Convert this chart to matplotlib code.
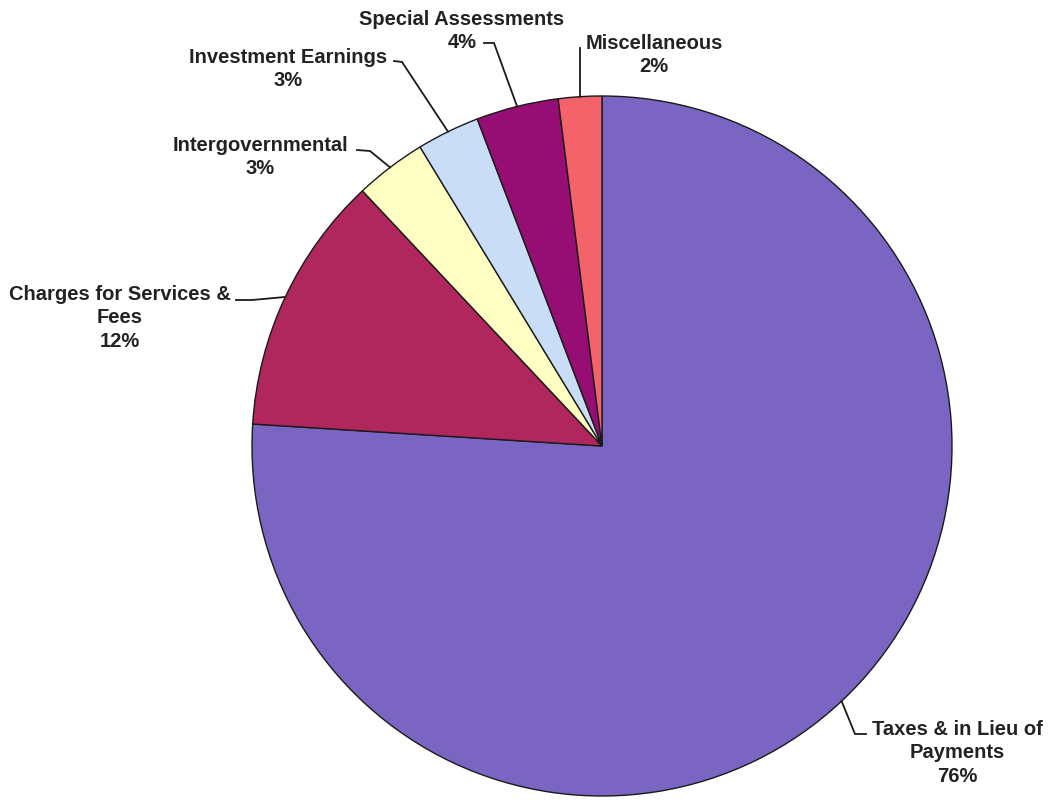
import numpy as np
import matplotlib
matplotlib.use("Agg")
import matplotlib.pyplot as plt

# data (percent of total revenue), clockwise from 12 o'clock
categories = ["Taxes & in Lieu of\nPayments", "Charges for Services &\nFees",
              "Intergovernmental", "Investment Earnings",
              "Special Assessments", "Miscellaneous"]
shares = [76.0, 12.0, 3.3, 2.9, 3.8, 2.0]
pct_labels = ["76%", "12%", "3%", "3%", "4%", "2%"]
colors = ["#7A65C3", "#B0275E", "#FFFFC4", "#CADDF7", "#960E74", "#F4626A"]

W, H = 1052, 804
cx, cy, R = 602, H - 447, 350

# label layout in pixel coords (y measured from top): text centre, then leader
# line points going from the elbow to the end near the text
label_xy = [(957, 753), (120, 318), (260, 157), (288, 69), (462, 31), (654, 55)]
leader_pts = [
    [(855, 735), (866, 735)],
    [(252, 301), (236, 301)],
    [(370, 152), (357, 151)],
    [(402, 63), (394, 62)],
    [(494, 44), (484, 44)],
    [(580, 49)],
]

plt.rcParams["font.family"] = ["Liberation Sans", "DejaVu Sans"]

fig = plt.figure(figsize=(W / 100, H / 100), dpi=100)
ax = fig.add_axes([0, 0, 1, 1])
wedges, _ = ax.pie(shares, startangle=90, counterclock=False, center=(cx, cy),
                   radius=R, colors=colors,
                   wedgeprops=dict(edgecolor="#1a1a1a", linewidth=1.0))
ax.set_xlim(0, W)
ax.set_ylim(0, H)
ax.set_aspect("equal")
ax.axis("off")

for w, cat, pct, lxy, pts in zip(wedges, categories, pct_labels,
                                  label_xy, leader_pts):
    mid = np.deg2rad((w.theta1 + w.theta2) / 2)
    xs = [cx + R * np.cos(mid)] + [p[0] for p in pts]
    ys = [cy + R * np.sin(mid)] + [H - p[1] for p in pts]
    ax.plot(xs, ys, color="#1a1a1a", lw=1.3, solid_joinstyle="miter")
    ax.text(lxy[0], H - lxy[1], cat + "\n" + pct, ha="center", va="center",
            fontsize=14.5, fontweight="bold", color="#222222", linespacing=1.3)

fig.savefig("out.png", dpi=100, facecolor="white")
